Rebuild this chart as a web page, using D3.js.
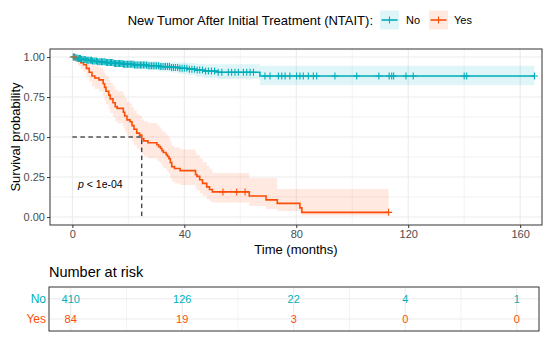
<!DOCTYPE html>
<html lang="en">
<head>
<meta charset="UTF-8" />
<title>Survival by New Tumor After Initial Treatment</title>
<script src="https://d3js.org/d3.v7.min.js"></script>
<style>
  body { margin: 0; background: #fff; }
  svg { font-family: "Liberation Sans", Arial, sans-serif; }
  .tick text { fill: #4d4d4d; font-size: 11px; }
  .tick line { stroke: #333; }
</style>
</head>
<body>
<svg id="chart" width="550" height="338"></svg>
<script>
// ---- data ----
const groups = ["No", "Yes"];
const colors = ["#00AFBB", "#FC4E07"];

// "No" group: step times, survival and confidence band
const noTime  = [0, 1, 2, 3, 5, 7, 9, 12, 15, 18, 22, 27, 31, 35, 38, 41, 44, 47, 52, 67];
const noSurv  = [1, 0.995, 0.99, 0.985, 0.98, 0.975, 0.97, 0.965, 0.96, 0.955, 0.95, 0.945, 0.94, 0.935, 0.93, 0.924, 0.918, 0.912, 0.905, 0.881];
const noUpper = [1, 1, 1, 0.997, 0.994, 0.991, 0.988, 0.985, 0.982, 0.979, 0.976, 0.973, 0.97, 0.967, 0.965, 0.962, 0.958, 0.955, 0.955, 0.946];
const noLower = [1, 0.988, 0.98, 0.973, 0.966, 0.959, 0.952, 0.945, 0.938, 0.931, 0.924, 0.917, 0.91, 0.903, 0.896, 0.887, 0.878, 0.87, 0.862, 0.823];
const noEnd = 165.1;
const noCensor = [0.3, 0.8, 1.2, 1.6, 2.1, 2.5, 2.9, 3.3, 3.8, 4.2, 4.6, 5.1, 5.5, 5.9, 6.4, 6.8, 7.2, 7.7, 8.1, 8.6,
  9, 9.5, 9.9, 10.4, 10.8, 11.3, 11.7, 12.2, 12.6, 13.1, 13.6, 14, 14.5, 15, 15.4, 15.9, 16.4, 16.8, 17.3, 17.8,
  18.3, 18.7, 19.2, 19.7, 20.2, 20.7, 21.2, 21.7, 22.2, 22.7, 23.2, 23.8, 24.3, 24.8, 25.4, 25.9, 26.5, 27.1,
  27.7, 28.3, 28.9, 29.5, 30.1, 30.8, 31.4, 32, 32.7, 33.3, 34, 34.7, 35.4, 36.1, 36.8, 37.6, 38.4, 39.2, 40,
  40.9, 41.8, 42.7, 43.6, 44.6, 45.5, 46.5, 47.6, 48.6, 49.7, 50.8, 52.1, 53.4, 55.7, 56.9, 58.1, 59.3, 61.1,
  62.3, 63.5, 64.7, 68.8, 70.6, 73.6, 74.8, 76, 77.7, 80.1, 81.3, 82.5, 84.3, 86.1, 87.3, 93.8, 101.6, 109.5,
  113.2, 114.1, 114.8, 119.2, 121.8, 140, 140.9, 165.1];

// "Yes" group
const yesTime  = [0, 1, 2, 3, 4, 5, 6, 7, 8, 9.5, 11, 11.5, 12, 13, 13.5, 14.5, 15.3, 16, 18.2, 18.7, 19.5, 20.6, 21.3, 22, 23, 24, 24.8, 25.5, 27, 30.2, 30.8, 31.5, 32, 32.5, 33.5, 34, 34.5, 35, 35.5, 36.5, 38.5, 44, 44.5, 45.5, 46.5, 48, 49, 50, 63.2, 69.2, 73.2, 81.3, 82];
const yesSurv  = [1, 0.988, 0.976, 0.964, 0.952, 0.929, 0.905, 0.881, 0.869, 0.857, 0.833, 0.81, 0.786, 0.762, 0.738, 0.714, 0.69, 0.679, 0.655, 0.631, 0.607, 0.595, 0.571, 0.548, 0.524, 0.512, 0.488, 0.476, 0.464, 0.452, 0.44, 0.428, 0.415, 0.403, 0.39, 0.378, 0.365, 0.34, 0.315, 0.303, 0.29, 0.266, 0.254, 0.233, 0.21, 0.188, 0.172, 0.157, 0.131, 0.107, 0.085, 0.057, 0.029];
const yesUpper = [1, 1, 1, 0.999, 0.99, 0.985, 0.97, 0.953, 0.944, 0.935, 0.917, 0.898, 0.878, 0.858, 0.838, 0.817, 0.796, 0.786, 0.764, 0.743, 0.72, 0.71, 0.688, 0.666, 0.644, 0.633, 0.61, 0.598, 0.587, 0.576, 0.565, 0.553, 0.541, 0.53, 0.518, 0.506, 0.494, 0.47, 0.446, 0.435, 0.422, 0.4, 0.388, 0.366, 0.342, 0.318, 0.3, 0.275, 0.244, 0.244, 0.175, 0.175, 0.175];
const yesLower = [1, 0.965, 0.944, 0.925, 0.908, 0.876, 0.845, 0.815, 0.8, 0.785, 0.757, 0.73, 0.703, 0.677, 0.65, 0.624, 0.598, 0.586, 0.56, 0.535, 0.51, 0.498, 0.474, 0.45, 0.427, 0.415, 0.391, 0.379, 0.367, 0.355, 0.343, 0.331, 0.318, 0.306, 0.294, 0.282, 0.27, 0.246, 0.222, 0.211, 0.2, 0.177, 0.166, 0.148, 0.129, 0.111, 0.098, 0.09, 0.068, 0.05, 0.038, 0.02, 0.01];
const yesEnd = 113;
const yesCensor = [0.5, 53.8, 58.7, 61.7, 113];

const medianTime = 24.8;
const xTicks = [0, 40, 80, 120, 160];
const yTicks = [0, 0.25, 0.5, 0.75, 1];
const riskTimes = [0, 40, 80, 120, 160];
const riskNo = [410, 126, 22, 4, 1];
const riskYes = [84, 19, 3, 0, 0];

// ---- layout ----
const svg = d3.select("#chart");
const panel = { left: 50, right: 542, top: 49, bottom: 225 };
const table = { left: 49, right: 539, top: 287, bottom: 331 };

const x = d3.scaleLinear().domain([-8, 167.8]).range([panel.left, panel.right]);
const y = d3.scaleLinear().domain([-0.05, 1.05]).range([panel.bottom, panel.top]);
const xt = d3.scaleLinear().domain([-7.8, 168]).range([table.left, table.right]);

// grid
const grid = svg.append("g");
[20, 60, 100, 140].forEach(t => grid.append("line")
  .attr("x1", x(t)).attr("x2", x(t)).attr("y1", panel.top).attr("y2", panel.bottom)
  .attr("stroke", "#ebebeb").attr("stroke-width", 0.6));
[0.125, 0.375, 0.625, 0.875].forEach(v => grid.append("line")
  .attr("x1", panel.left).attr("x2", panel.right).attr("y1", y(v)).attr("y2", y(v))
  .attr("stroke", "#ebebeb").attr("stroke-width", 0.6));
xTicks.forEach(t => grid.append("line")
  .attr("x1", x(t)).attr("x2", x(t)).attr("y1", panel.top).attr("y2", panel.bottom)
  .attr("stroke", "#ebebeb").attr("stroke-width", 1.1));
yTicks.forEach(v => grid.append("line")
  .attr("x1", panel.left).attr("x2", panel.right).attr("y1", y(v)).attr("y2", y(v))
  .attr("stroke", "#ebebeb").attr("stroke-width", 1.1));

// survival curves
function series(time, surv, up, lo, end) {
  const pts = time.map((t, i) => ({ t: t, s: surv[i], u: up[i], l: lo[i] }));
  const last = pts[pts.length - 1];
  pts.push({ t: end, s: last.s, u: last.u, l: last.l });
  return pts;
}
const data = [
  series(noTime, noSurv, noUpper, noLower, noEnd),
  series(yesTime, yesSurv, yesUpper, yesLower, yesEnd)
];
const censors = [noCensor, yesCensor];

const area = d3.area().curve(d3.curveStepAfter)
  .x(d => x(d.t)).y0(d => y(d.l)).y1(d => y(d.u));
const line = d3.line().curve(d3.curveStepAfter)
  .x(d => x(d.t)).y(d => y(d.s));

data.forEach((pts, i) => {
  svg.append("path").attr("d", area(pts))
    .attr("fill", colors[i]).attr("fill-opacity", 0.12);
});

// median lines
svg.append("path")
  .attr("d", `M${x(0)},${y(0.5)}H${x(medianTime)}V${y(0)}`)
  .attr("fill", "none").attr("stroke", "#000")
  .attr("stroke-width", 1).attr("stroke-dasharray", "4.5,3.5");

data.forEach((pts, i) => {
  svg.append("path").attr("d", line(pts))
    .attr("fill", "none").attr("stroke", colors[i]).attr("stroke-width", 1.6);
});

// censor marks
function survAt(pts, t) {
  let s = pts[0].s;
  pts.forEach(d => { if (d.t <= t) s = d.s; });
  return s;
}
censors.forEach((cs, i) => {
  svg.append("g").selectAll("path").data(cs).enter().append("path")
    .attr("d", t => {
      const cx = x(t), cy = y(survAt(data[i], t));
      return `M${cx},${cy - 3.5}V${cy + 3.5}M${cx - 3.5},${cy}H${cx + 3.5}`;
    })
    .attr("stroke", colors[i]).attr("stroke-width", 1.1);
});

// p value
svg.append("text").attr("x", 78).attr("y", 188)
  .attr("font-size", "10.5px").attr("fill", "#000")
  .html('<tspan font-style="italic">p</tspan> &lt; 1e-04');

// panel border
svg.append("rect")
  .attr("x", panel.left).attr("y", panel.top)
  .attr("width", panel.right - panel.left).attr("height", panel.bottom - panel.top)
  .attr("fill", "none").attr("stroke", "#333").attr("stroke-width", 1);

// axes
svg.append("g").attr("transform", `translate(${panel.left},0)`)
  .call(d3.axisLeft(y).tickValues(yTicks).tickFormat(d3.format(".2f")).tickSize(3).tickPadding(2))
  .call(g => g.select(".domain").remove());
svg.append("g").attr("transform", `translate(0,${panel.bottom})`)
  .call(d3.axisBottom(x).tickValues(xTicks).tickSize(3).tickPadding(2))
  .call(g => g.select(".domain").remove());

svg.append("text").attr("transform", `translate(20,${y(0.5)}) rotate(-90)`)
  .attr("text-anchor", "middle").attr("font-size", "13px").text("Survival probability");
svg.append("text").attr("x", (panel.left + panel.right) / 2).attr("y", 254)
  .attr("text-anchor", "middle").attr("font-size", "13px").text("Time (months)");

// legend
svg.append("text").attr("x", 373).attr("y", 24.5).attr("text-anchor", "end")
  .attr("font-size", "13px").text("New Tumor After Initial Treatment (NTAIT):");
const keyX = [380, 429];
const labelX = [406, 454];
groups.forEach((g, i) => {
  const k = svg.append("g").attr("transform", `translate(${keyX[i]},10.5)`);
  k.append("rect").attr("width", 19).attr("height", 19)
    .attr("fill", colors[i]).attr("fill-opacity", 0.12);
  k.append("line").attr("x1", 1.5).attr("x2", 17.5).attr("y1", 9.5).attr("y2", 9.5)
    .attr("stroke", colors[i]).attr("stroke-width", 1.6);
  k.append("line").attr("x1", 9.5).attr("x2", 9.5).attr("y1", 6).attr("y2", 13)
    .attr("stroke", colors[i]).attr("stroke-width", 1.1);
  svg.append("text").attr("x", labelX[i]).attr("y", 24)
    .attr("font-size", "11px").text(g);
});

// risk table
svg.append("text").attr("x", 49).attr("y", 276.5)
  .attr("font-size", "14.5px").text("Number at risk");

const rowY = [298.7, 319];
const tg = svg.append("g");
[20, 60, 100, 140].forEach(t => tg.append("line")
  .attr("x1", xt(t)).attr("x2", xt(t)).attr("y1", table.top).attr("y2", table.bottom)
  .attr("stroke", "#ebebeb").attr("stroke-width", 0.6));
riskTimes.forEach(t => tg.append("line")
  .attr("x1", xt(t)).attr("x2", xt(t)).attr("y1", table.top).attr("y2", table.bottom)
  .attr("stroke", "#ebebeb").attr("stroke-width", 1.1));
rowY.forEach(ry => tg.append("line")
  .attr("x1", table.left).attr("x2", table.right).attr("y1", ry).attr("y2", ry)
  .attr("stroke", "#ebebeb").attr("stroke-width", 1.1));

const riskValues = [riskNo, riskYes];
groups.forEach((g, i) => {
  svg.append("text").attr("x", 46).attr("y", rowY[i]).attr("dy", "0.35em")
    .attr("text-anchor", "end").attr("font-size", "12px").attr("fill", colors[i]).text(g);
  svg.append("g").selectAll("text").data(riskValues[i]).enter().append("text")
    .attr("x", (d, j) => xt(riskTimes[j])).attr("y", rowY[i]).attr("dy", "0.35em")
    .attr("text-anchor", "middle").attr("font-size", "11px").attr("fill", colors[i])
    .text(d => d);
});
svg.append("rect")
  .attr("x", table.left).attr("y", table.top)
  .attr("width", table.right - table.left).attr("height", table.bottom - table.top)
  .attr("fill", "none").attr("stroke", "#333").attr("stroke-width", 1);
</script>
</body>
</html>
